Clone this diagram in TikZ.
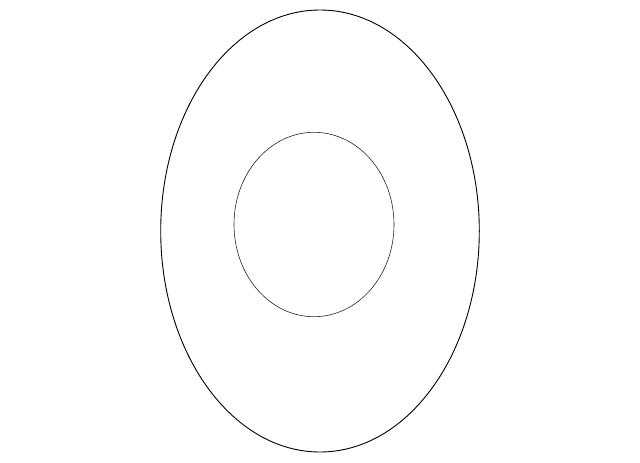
\documentclass[tikz,border=0pt]{standalone}
\begin{document}
\begin{tikzpicture}[x=1pt,y=-1pt,
  outerring/.style={draw=black,line width=0.9pt},
  innerring/.style={draw=black!85,line width=0.6pt}]
\useasboundingbox[fill=white] (0,0) rectangle (640,463);
\draw[outerring] (320,231) ellipse [x radius=159.3, y radius=221];
\draw[innerring] (314,224.5) ellipse [x radius=80, y radius=92.2];
\end{tikzpicture}
\end{document}
